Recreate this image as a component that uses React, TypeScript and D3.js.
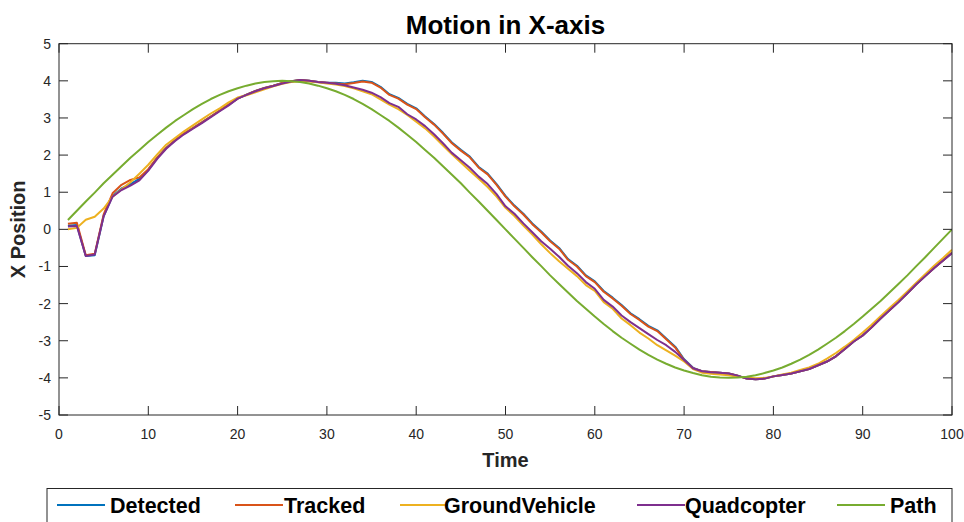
import React from "react";
import * as d3 from "d3";

const time: number[] = d3.range(1, 101);

const detected: number[] = [
  0.10, 0.12, -0.72, -0.70, 0.36, 0.90, 1.10, 1.22, 1.36, 1.60,
  1.93, 2.19, 2.40, 2.58, 2.73, 2.88, 3.04, 3.20, 3.36, 3.52,
  3.63, 3.73, 3.81, 3.87, 3.94, 3.99, 4.02, 4.00, 3.97, 3.95,
  3.95, 3.93, 3.96, 4.00, 3.97, 3.84, 3.64, 3.54, 3.38, 3.26,
  3.04, 2.84, 2.60, 2.34, 2.14, 1.96, 1.68, 1.50, 1.22, 0.90,
  0.64, 0.42, 0.16, -0.06, -0.30, -0.50, -0.80, -0.98, -1.24, -1.40,
  -1.66, -1.84, -2.04, -2.26, -2.42, -2.60, -2.72, -2.94, -3.16, -3.50,
  -3.73, -3.82, -3.84, -3.86, -3.88, -3.94, -4.02, -4.04, -4.02, -3.96,
  -3.92, -3.88, -3.82, -3.76, -3.66, -3.56, -3.42, -3.22, -3.02, -2.86,
  -2.64, -2.40, -2.18, -1.96, -1.72, -1.48, -1.26, -1.04, -0.84, -0.63,
];

const tracked: number[] = [
  0.15, 0.18, -0.70, -0.66, 0.40, 0.97, 1.20, 1.33, 1.40, 1.62,
  1.93, 2.19, 2.40, 2.58, 2.73, 2.88, 3.04, 3.20, 3.36, 3.52,
  3.63, 3.73, 3.81, 3.87, 3.94, 3.99, 4.02, 4.00, 3.97, 3.95,
  3.93, 3.91, 3.94, 3.98, 3.95, 3.82, 3.62, 3.52, 3.36, 3.24,
  3.02, 2.82, 2.58, 2.32, 2.12, 1.94, 1.66, 1.48, 1.20, 0.88,
  0.62, 0.40, 0.14, -0.08, -0.32, -0.52, -0.82, -1.00, -1.26, -1.42,
  -1.68, -1.86, -2.06, -2.28, -2.44, -2.62, -2.74, -2.96, -3.18, -3.52,
  -3.74, -3.82, -3.84, -3.86, -3.88, -3.94, -4.02, -4.04, -4.02, -3.96,
  -3.92, -3.88, -3.82, -3.76, -3.66, -3.56, -3.42, -3.22, -3.02, -2.86,
  -2.64, -2.40, -2.18, -1.96, -1.72, -1.48, -1.26, -1.04, -0.84, -0.63,
];

const groundVehicle: number[] = [
  0.00, 0.04, 0.26, 0.34, 0.56, 0.88, 1.08, 1.27, 1.50, 1.74,
  2.02, 2.28, 2.46, 2.64, 2.80, 2.96, 3.12, 3.26, 3.42, 3.55,
  3.61, 3.69, 3.77, 3.85, 3.92, 3.97, 3.99, 3.98, 3.96, 3.93,
  3.90, 3.86, 3.80, 3.72, 3.64, 3.50, 3.36, 3.24, 3.08, 2.90,
  2.72, 2.50, 2.26, 2.02, 1.80, 1.58, 1.36, 1.14, 0.88, 0.58,
  0.36, 0.10, -0.14, -0.40, -0.64, -0.86, -1.06, -1.26, -1.50, -1.66,
  -1.96, -2.14, -2.40, -2.58, -2.78, -2.94, -3.12, -3.26, -3.40, -3.56,
  -3.76, -3.86, -3.89, -3.91, -3.93, -3.97, -3.99, -4.01, -4.00, -3.96,
  -3.91, -3.86, -3.79, -3.72, -3.62, -3.48, -3.33, -3.16, -2.98, -2.78,
  -2.57, -2.34, -2.12, -1.90, -1.67, -1.44, -1.21, -0.98, -0.77, -0.55,
];

const quadcopter: number[] = [
  0.08, 0.09, -0.72, -0.68, 0.35, 0.88, 1.06, 1.18, 1.32, 1.58,
  1.90, 2.17, 2.38, 2.56, 2.71, 2.86, 3.02, 3.18, 3.34, 3.52,
  3.62, 3.72, 3.80, 3.86, 3.93, 3.98, 4.02, 4.00, 3.97, 3.95,
  3.92, 3.88, 3.82, 3.76, 3.68, 3.56, 3.40, 3.30, 3.10, 2.96,
  2.78, 2.56, 2.32, 2.06, 1.86, 1.66, 1.42, 1.22, 0.95, 0.62,
  0.42, 0.16, -0.08, -0.32, -0.52, -0.74, -0.98, -1.18, -1.42, -1.60,
  -1.90, -2.08, -2.32, -2.50, -2.66, -2.82, -2.98, -3.12, -3.30, -3.52,
  -3.74, -3.82, -3.85, -3.86, -3.88, -3.94, -4.02, -4.04, -4.02, -3.96,
  -3.92, -3.88, -3.82, -3.76, -3.66, -3.56, -3.42, -3.22, -3.02, -2.86,
  -2.64, -2.40, -2.18, -1.96, -1.72, -1.48, -1.26, -1.04, -0.84, -0.64,
];

const pathRef: number[] = [
  0.25, 0.50, 0.75, 0.99, 1.24, 1.47, 1.70, 1.93, 2.14, 2.35,
  2.55, 2.74, 2.92, 3.08, 3.24, 3.38, 3.51, 3.62, 3.72, 3.80,
  3.87, 3.93, 3.97, 3.99, 4.00, 3.99, 3.97, 3.93, 3.87, 3.80,
  3.72, 3.62, 3.51, 3.38, 3.24, 3.08, 2.92, 2.74, 2.55, 2.35,
  2.14, 1.93, 1.70, 1.47, 1.24, 0.99, 0.75, 0.50, 0.25, 0.00,
  -0.25, -0.50, -0.75, -0.99, -1.24, -1.47, -1.70, -1.93, -2.14, -2.35,
  -2.55, -2.74, -2.92, -3.08, -3.24, -3.38, -3.51, -3.62, -3.72, -3.80,
  -3.87, -3.93, -3.97, -3.99, -4.00, -3.99, -3.97, -3.93, -3.87, -3.80,
  -3.72, -3.62, -3.51, -3.38, -3.24, -3.08, -2.92, -2.74, -2.55, -2.35,
  -2.14, -1.93, -1.70, -1.47, -1.24, -0.99, -0.75, -0.50, -0.25, 0.00,
];

const xTicks: number[] = [0, 10, 20, 30, 40, 50, 60, 70, 80, 90, 100];
const yTicks: number[] = [-5, -4, -3, -2, -1, 0, 1, 2, 3, 4, 5];

const seriesNames: string[] = ["Detected", "Tracked", "GroundVehicle", "Quadcopter", "Path"];
const seriesColors: string[] = ["#0072BD", "#D95319", "#EDB120", "#7E2F8E", "#77AC30"];
const seriesData: number[][] = [detected, tracked, groundVehicle, quadcopter, pathRef];

const W = 964;
const H = 522;
const left = 59;
const right = 952;
const top = 43.7;
const bottom = 415;
const font = "'Liberation Sans', Arial, Helvetica, sans-serif";
const axisColor = "#262626";

export default function App() {
  const x = d3.scaleLinear().domain([0, 100]).range([left, right]);
  const y = d3.scaleLinear().domain([-5, 5]).range([bottom, top]);
  const line = d3
    .line<number>()
    .x((_, i) => x(time[i]))
    .y((d) => y(d));

  const tickLen = 9;
  const legendItems = [
    { lx: 57, tx: 110 },
    { lx: 235, tx: 284 },
    { lx: 400, tx: 444 },
    { lx: 637, tx: 685 },
    { lx: 837, tx: 890 },
  ];
  const legendY = 505;

  return (
    <svg
      width={W}
      height={H}
      style={{ position: "absolute", left: 0, top: 0, background: "#fff" }}
      fontFamily={font}
    >
      <rect x={0} y={0} width={W} height={H} fill="#fff" />
      <defs>
        <clipPath id="plot">
          <rect x={left} y={top} width={right - left} height={bottom - top} />
        </clipPath>
      </defs>

      <g clipPath="url(#plot)">
        {seriesData.map((s, k) => (
          <path
            key={seriesNames[k]}
            d={line(s) || ""}
            fill="none"
            stroke={seriesColors[k]}
            strokeWidth={2}
            strokeLinejoin="round"
          />
        ))}
      </g>

      <rect
        x={left}
        y={top}
        width={right - left}
        height={bottom - top}
        fill="none"
        stroke={axisColor}
        strokeWidth={1}
      />

      {xTicks.map((t) => (
        <g key={"x" + t}>
          <line x1={x(t)} x2={x(t)} y1={bottom} y2={bottom - tickLen} stroke={axisColor} />
          <line x1={x(t)} x2={x(t)} y1={top} y2={top + tickLen} stroke={axisColor} />
          <text x={x(t)} y={bottom + 24} fontSize={14} textAnchor="middle" fill={axisColor}>
            {t}
          </text>
        </g>
      ))}

      {yTicks.map((t) => (
        <g key={"y" + t}>
          <line x1={left} x2={left + tickLen} y1={y(t)} y2={y(t)} stroke={axisColor} />
          <line x1={right} x2={right - tickLen} y1={y(t)} y2={y(t)} stroke={axisColor} />
          <text x={left - 8} y={y(t) + 5} fontSize={14} textAnchor="end" fill={axisColor}>
            {t}
          </text>
        </g>
      ))}

      <text
        x={(left + right) / 2}
        y={34}
        fontSize={26}
        fontWeight="bold"
        textAnchor="middle"
        fill="#000"
      >
        Motion in X-axis
      </text>

      <text
        x={(left + right) / 2}
        y={467}
        fontSize={20}
        fontWeight="bold"
        textAnchor="middle"
        fill={axisColor}
      >
        Time
      </text>
      <text
        transform={`translate(25, ${(top + bottom) / 2}) rotate(-90)`}
        fontSize={20}
        fontWeight="bold"
        textAnchor="middle"
        fill={axisColor}
      >
        X Position
      </text>

      <rect x={47} y={488.5} width={905} height={50} fill="#fff" stroke={axisColor} strokeWidth={1} />
      {seriesNames.map((name, k) => (
        <g key={"leg" + name}>
          <line
            x1={legendItems[k].lx}
            x2={legendItems[k].lx + 48}
            y1={legendY}
            y2={legendY}
            stroke={seriesColors[k]}
            strokeWidth={2}
          />
          <text
            x={legendItems[k].tx}
            y={legendY + 7.5}
            fontSize={21.5}
            fontWeight="bold"
            fill="#000"
          >
            {name}
          </text>
        </g>
      ))}
    </svg>
  );
}
